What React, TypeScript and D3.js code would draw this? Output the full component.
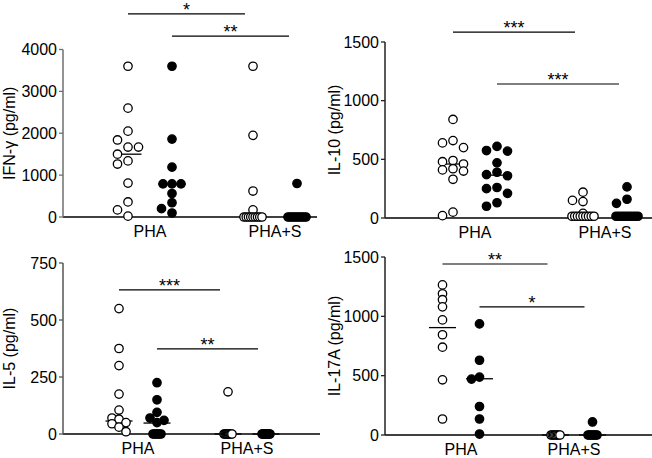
import * as d3 from 'd3';

const groups = ['PHA', 'PHA+S'];
const kinds = ['open', 'filled'];

// IFN-γ
const ifnTicks = [0, 1000, 2000, 3000, 4000];
const ifnPhaOpen = [3600, 2600, 2050, 1840, 1670, 1670, 1500, 1340, 1265, 810, 360, 170, 20];
const ifnPhaFilled = [3600, 1860, 1190, 790, 790, 790, 560, 340, 200, 95];
const ifnPhaSOpen = [3600, 1950, 620, 170, 0, 0, 0, 0, 0, 0, 0, 0, 0];
const ifnPhaSFilled = [800, 0, 0, 0, 0, 0, 0, 0, 0, 0];
const ifnMedians = [1500, 790, 0, 0];
const ifnSigs = [
  { from: 0, to: 2, y: 4850, label: '*' },
  { from: 1, to: 3, y: 4320, label: '**' },
];

// IL-10
const il10Ticks = [0, 500, 1000, 1500];
const il10PhaOpen = [840, 660, 640, 600, 490, 480, 460, 420, 410, 400, 330, 50, 20];
const il10PhaFilled = [610, 575, 570, 470, 390, 370, 360, 260, 250, 210, 130, 100];
const il10PhaSOpen = [220, 150, 140, 40, 15, 15, 15, 15, 15, 15, 15, 15, 15];
const il10PhaSFilled = [265, 160, 125, 15, 15, 15, 15, 15, 15, 15, 15, 15];
const il10Medians = [460, 365, 15, 15];
const il10Sigs = [
  { from: 0, to: 2, y: 1585, label: '***' },
  { from: 1, to: 3, y: 1142, label: '***' },
];

// IL-5
const il5Ticks = [0, 250, 500, 750];
const il5PhaOpen = [550, 375, 300, 175, 105, 70, 65, 50, 45, 30, 10];
const il5PhaFilled = [225, 150, 95, 70, 60, 50, 0, 0, 0, 0, 0, 0];
const il5PhaSOpen = [185, 0, 0, 0, 0, 0, 0, 0, 0, 0, 0];
const il5PhaSFilled = [0, 0, 0, 0, 0, 0, 0, 0, 0, 0, 0];
const il5Medians = [57, 48, 0, 0];
const il5Sigs = [
  { from: 0, to: 2, y: 632, label: '***' },
  { from: 1, to: 3, y: 373, label: '**' },
];

// IL-17A
const il17Ticks = [0, 500, 1000, 1500];
const il17PhaOpen = [1265, 1190, 1140, 1080, 970, 845, 740, 465, 135];
const il17PhaFilled = [936, 630, 488, 471, 240, 135, 8];
const il17PhaSOpen = [0, 0, 0, 0, 0, 0, 0, 0];
const il17PhaSFilled = [110, 0, 0, 0, 0, 0, 0, 0];
const il17Medians = [905, 474, 0, 0];
const il17Sigs = [
  { from: 0, to: 2, y: 1441, label: '**' },
  { from: 1, to: 3, y: 1079, label: '*' },
];

const panels = [
  {
    title: 'IFN-γ (pg/ml)', ticks: ifnTicks, medians: ifnMedians, sigs: ifnSigs,
    series: [ifnPhaOpen, ifnPhaFilled, ifnPhaSOpen, ifnPhaSFilled],
    left: 63, top: 49.5, bottom: 217, right: 317, cats: [150, 275], sub: 22, tieW: 18,
    slot: 10.5, dyMin: 9, titleX: 14.5, axisColor: '#6f6f6f',
  },
  {
    title: 'IL-10 (pg/ml)', ticks: il10Ticks, medians: il10Medians, sigs: il10Sigs,
    series: [il10PhaOpen, il10PhaFilled, il10PhaSOpen, il10PhaSFilled],
    left: 385, top: 42, bottom: 218, right: 652, cats: [475, 605], sub: 22, tieW: 22,
    slot: 10.5, dyMin: 9, titleX: 340, axisColor: '#222',
  },
  {
    title: 'IL-5 (pg/ml)', ticks: il5Ticks, medians: il5Medians, sigs: il5Sigs,
    series: [il5PhaOpen, il5PhaFilled, il5PhaSOpen, il5PhaSFilled],
    left: 63, top: 263, bottom: 434, right: 320, cats: [138, 247], sub: 19, tieW: 8,
    slot: 7, dyMin: 9, titleX: 15, axisColor: '#555',
  },
  {
    title: 'IL-17A (pg/ml)', ticks: il17Ticks, medians: il17Medians, sigs: il17Sigs,
    series: [il17PhaOpen, il17PhaFilled, il17PhaSOpen, il17PhaSFilled],
    left: 385, top: 257, bottom: 435, right: 652, cats: [461, 574], sub: 18.5, tieW: 9,
    slot: 8, dyMin: 5.5, titleX: 340, axisColor: '#222',
  },
];

const R = 4.2;

// dot-plot layout: ties spread in a narrow band, other points dodge into 3 columns
function swarm(values: number[], y: (v: number) => number, tieW: number, slotW: number, dyMin: number) {
  const offsets = new Array(values.length).fill(0);
  const counts = d3.rollup(values, (v) => v.length, (v) => v);
  const tieIdx = new Map<number, number[]>();
  const rest: number[] = [];
  values.forEach((v, i) => {
    if ((counts.get(v) || 0) >= 3) {
      if (!tieIdx.has(v)) tieIdx.set(v, []);
      tieIdx.get(v)!.push(i);
    } else rest.push(i);
  });
  tieIdx.forEach((idx) => {
    const n = idx.length;
    const step = Math.min(10.5, tieW / (n - 1));
    idx.forEach((id, k) => (offsets[id] = (k - (n - 1) / 2) * step));
  });
  rest.sort((a, b) => values[b] - values[a]);
  const placed: { slot: number; py: number }[] = [];
  rest.forEach((i) => {
    const py = y(values[i]);
    let best = 0;
    let bestGap = -1;
    for (const slot of [0, -1, 1]) {
      const gaps = placed.filter((p) => p.slot === slot).map((p) => Math.abs(p.py - py));
      const gap = gaps.length ? Math.min(...gaps) : Infinity;
      if (gap >= dyMin) {
        best = slot;
        bestGap = gap;
        break;
      }
      if (gap > bestGap) {
        bestGap = gap;
        best = slot;
      }
    }
    placed.push({ slot: best, py });
    offsets[i] = best * slotW;
  });
  return offsets;
}

function Panel({ p }: { p: (typeof panels)[number] }) {
  const y = d3.scaleLinear().domain([0, d3.max(p.ticks)!]).range([p.bottom, p.top]);
  const xCat = d3.scalePoint<string>().domain(groups).range(p.cats as [number, number]);
  const xSub = d3.scalePoint<string>().domain(kinds).range([-p.sub, p.sub]);
  const cx = (i: number) => xCat(groups[Math.floor(i / 2)])! + xSub(kinds[i % 2])!;

  return (
    <g>
      <line x1={p.left} x2={p.right} y1={p.bottom} y2={p.bottom} stroke="#000" strokeWidth={1.3} />
      <line x1={p.left} x2={p.left} y1={p.top} y2={p.bottom} stroke={p.axisColor} strokeWidth={1.5} />
      {p.ticks.map((t) => (
        <g key={t}>
          <line x1={p.left - 4} x2={p.left} y1={y(t)} y2={y(t)} stroke={p.axisColor} strokeWidth={1.3} />
          <text x={p.left - 6} y={y(t)} dy="0.36em" textAnchor="end" fontSize={16}>
            {t}
          </text>
        </g>
      ))}
      <text
        transform={`translate(${p.titleX},${(p.top + p.bottom) / 2}) rotate(-90)`}
        textAnchor="middle"
        fontSize={16}
      >
        {p.title}
      </text>
      {groups.map((g) => (
        <text key={g} x={xCat(g)} y={p.bottom + 20} textAnchor="middle" fontSize={16}>
          {g}
        </text>
      ))}
      {p.medians.map((m, i) => (
        <line key={i} x1={cx(i) - 13.5} x2={cx(i) + 13.5} y1={y(m)} y2={y(m)} stroke="#000" strokeWidth={1.3} />
      ))}
      {p.series.map((vals, i) => {
        const offs = swarm(vals, y, p.tieW, p.slot, p.dyMin);
        const filled = kinds[i % 2] === 'filled';
        return (
          <g key={i}>
            {vals.map((v, j) => (
              <circle
                key={j}
                cx={cx(i) + offs[j]}
                cy={y(v)}
                r={R}
                fill={filled ? '#000' : '#fff'}
                stroke="#000"
                strokeWidth={1.3}
              />
            ))}
          </g>
        );
      })}
      {p.sigs.map((s, k) => {
        const x1 = cx(s.from);
        const x2 = cx(s.to) - 8;
        return (
          <g key={k}>
            <line x1={x1} x2={x2} y1={y(s.y)} y2={y(s.y)} stroke="#000" strokeWidth={1.2} />
            <text x={(x1 + x2) / 2} y={y(s.y) + 2} textAnchor="middle" fontSize={18}>
              {s.label}
            </text>
          </g>
        );
      })}
    </g>
  );
}

export default function App() {
  return (
    <svg
      width={652}
      height={458}
      style={{ position: 'absolute', left: 0, top: 0, display: 'block', background: '#fff' }}
      fontFamily="'Liberation Sans', Arial, Helvetica, sans-serif"
    >
      {panels.map((p) => (
        <Panel key={p.title} p={p} />
      ))}
    </svg>
  );
}
